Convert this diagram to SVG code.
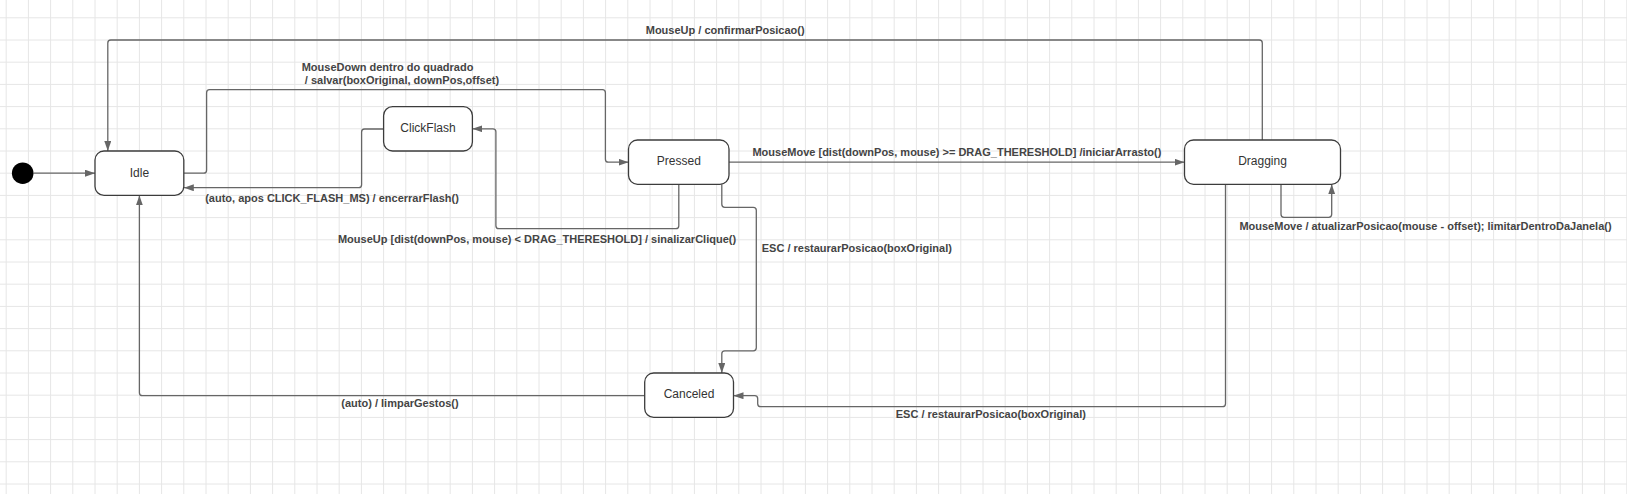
<svg xmlns="http://www.w3.org/2000/svg" width="1627" height="494" viewBox="0 0 1627 494">
<style>
.grid{stroke:#e6e6e6;stroke-width:1;fill:none}
.node rect{fill:#ffffff;stroke:#3c3c3c;stroke-width:1.3}
.node text{font-family:"Liberation Sans",Arial,sans-serif;font-size:12px;fill:#333333;text-anchor:middle}
.edge{fill:none;stroke:#666666;stroke-width:1.3;marker-end:url(#arrow)}
.lbl{font-family:"Liberation Sans",Arial,sans-serif;font-size:11px;font-weight:bold;fill:#444444}
.mid{text-anchor:middle}
</style>
<defs>
<marker id="arrow" markerUnits="userSpaceOnUse" markerWidth="10" markerHeight="7" refX="10" refY="3.5" orient="auto">
<path d="M0,0 L10,3.5 L0,7 z" fill="#666666"/>
</marker>
</defs>
<rect x="0" y="0" width="1627" height="494" fill="#ffffff"/>
<g id="grid">
<path class="grid" d="M6.2 0V494M28.4 0V494M50.6 0V494M72.8 0V494M95 0V494M117.2 0V494M139.4 0V494M161.6 0V494M183.8 0V494M206 0V494M228.2 0V494M250.4 0V494M272.6 0V494M294.8 0V494M317 0V494M339.2 0V494M361.4 0V494M383.6 0V494M405.8 0V494M428 0V494M450.2 0V494M472.4 0V494M494.6 0V494M516.8 0V494M539 0V494M561.2 0V494M583.4 0V494M605.6 0V494M627.8 0V494M650 0V494M672.2 0V494M694.4 0V494M716.6 0V494M738.8 0V494M761 0V494M783.2 0V494M805.4 0V494M827.6 0V494M849.8 0V494M872 0V494M894.2 0V494M916.4 0V494M938.6 0V494M960.8 0V494M983 0V494M1005.2 0V494M1027.4 0V494M1049.6 0V494M1071.8 0V494M1094 0V494M1116.2 0V494M1138.4 0V494M1160.6 0V494M1182.8 0V494M1205 0V494M1227.2 0V494M1249.4 0V494M1271.6 0V494M1293.8 0V494M1316 0V494M1338.2 0V494M1360.4 0V494M1382.6 0V494M1404.8 0V494M1427 0V494M1449.2 0V494M1471.4 0V494M1493.6 0V494M1515.8 0V494M1538 0V494M1560.2 0V494M1582.4 0V494M1604.6 0V494M1626.8 0V494"/>
<path class="grid" d="M0 17.8H1627M0 40H1627M0 62.2H1627M0 84.4H1627M0 106.6H1627M0 128.8H1627M0 151H1627M0 173.2H1627M0 195.4H1627M0 217.6H1627M0 239.8H1627M0 262H1627M0 284.2H1627M0 306.4H1627M0 328.6H1627M0 350.8H1627M0 373H1627M0 395.2H1627M0 417.4H1627M0 439.6H1627M0 461.8H1627M0 484H1627"/>
</g>
<g id="connectors">
<path class="edge" d="M33.5 173.2H95"/>
<path class="edge" d="M1262.3 140V43Q1262.3 40 1259.3 40H110.8Q107.8 40 107.8 43V151"/>
<path class="edge" d="M183.8 173.2H203.6Q206.6 173.2 206.6 170.2V92.7Q206.6 89.7 209.6 89.7H602.4Q605.4 89.7 605.4 92.7V159.2Q605.4 162.2 608.4 162.2H628.5"/>
<path class="edge" d="M383.6 129H364.6Q361.6 129 361.6 132V184.7Q361.6 187.7 358.6 187.7H183.8"/>
<path class="edge" d="M678.8 184.3V225.7Q678.8 228.7 675.8 228.7H498.9Q495.9 228.7 495.9 225.7V131.8Q495.9 128.8 492.9 128.8H472.4"/>
<path class="edge" d="M729 162.2H1184.5"/>
<path class="edge" d="M721.8 184.3V204.3Q721.8 207.3 724.8 207.3H753.3Q756.3 207.3 756.3 210.3V347.8Q756.3 350.8 753.3 350.8H724.8Q721.8 350.8 721.8 353.8V373"/>
<path class="edge" d="M1225.5 184.3V403.7Q1225.5 406.7 1222.5 406.7H760.7Q757.7 406.7 757.7 403.7V398.7Q757.7 395.7 754.7 395.7H733.5"/>
<path class="edge" d="M644.7 395.7H142.4Q139.4 395.7 139.4 392.7V195.4"/>
<path class="edge" d="M1281 184.3V214.3Q1281 217.3 1284 217.3H1328.7Q1331.7 217.3 1331.7 214.3V184.3"/>
<text class="lbl mid" x="725.2" y="34">MouseUp / confirmarPosicao()</text>
<text class="lbl" x="301.7" y="70.8">MouseDown dentro do quadrado</text>
<text class="lbl" x="304.8" y="84">/ salvar(boxOriginal, downPos,offset)</text>
<text class="lbl mid" x="332" y="202.2">(auto, apos CLICK_FLASH_MS) / encerrarFlash()</text>
<text class="lbl mid" x="537" y="242.9">MouseUp [dist(downPos, mouse) &lt; DRAG_THERESHOLD] / sinalizarClique()</text>
<text class="lbl mid" x="956.9" y="155.9">MouseMove [dist(downPos, mouse) &gt;= DRAG_THERESHOLD] /iniciarArrasto()</text>
<text class="lbl mid" x="856.8" y="251.8">ESC / restaurarPosicao(boxOriginal)</text>
<text class="lbl mid" x="990.8" y="418.2">ESC / restaurarPosicao(boxOriginal)</text>
<text class="lbl mid" x="400" y="407.2">(auto) / limparGestos()</text>
<text class="lbl mid" x="1425.5" y="229.9">MouseMove / atualizarPosicao(mouse - offset); limitarDentroDaJanela()</text>
</g>
<g id="initial">
<circle cx="22.7" cy="173.2" r="10.8" fill="#000000"/>
</g>
<g id="idle" class="node">
<rect x="95" y="151" width="88.8" height="44.4" rx="9"/>
<text x="139.4" y="176.6">Idle</text>
</g>
<g id="clickflash" class="node">
<rect x="383.6" y="106.6" width="88.8" height="44.4" rx="9"/>
<text x="428" y="132">ClickFlash</text>
</g>
<g id="pressed" class="node">
<rect x="628.5" y="140" width="100.5" height="44.3" rx="9"/>
<text x="678.8" y="165.3">Pressed</text>
</g>
<g id="dragging" class="node">
<rect x="1184.5" y="140" width="156" height="44.3" rx="9"/>
<text x="1262.5" y="165.3">Dragging</text>
</g>
<g id="canceled" class="node">
<rect x="644.7" y="373" width="88.8" height="44.4" rx="9"/>
<text x="689" y="398.3">Canceled</text>
</g>
</svg>
